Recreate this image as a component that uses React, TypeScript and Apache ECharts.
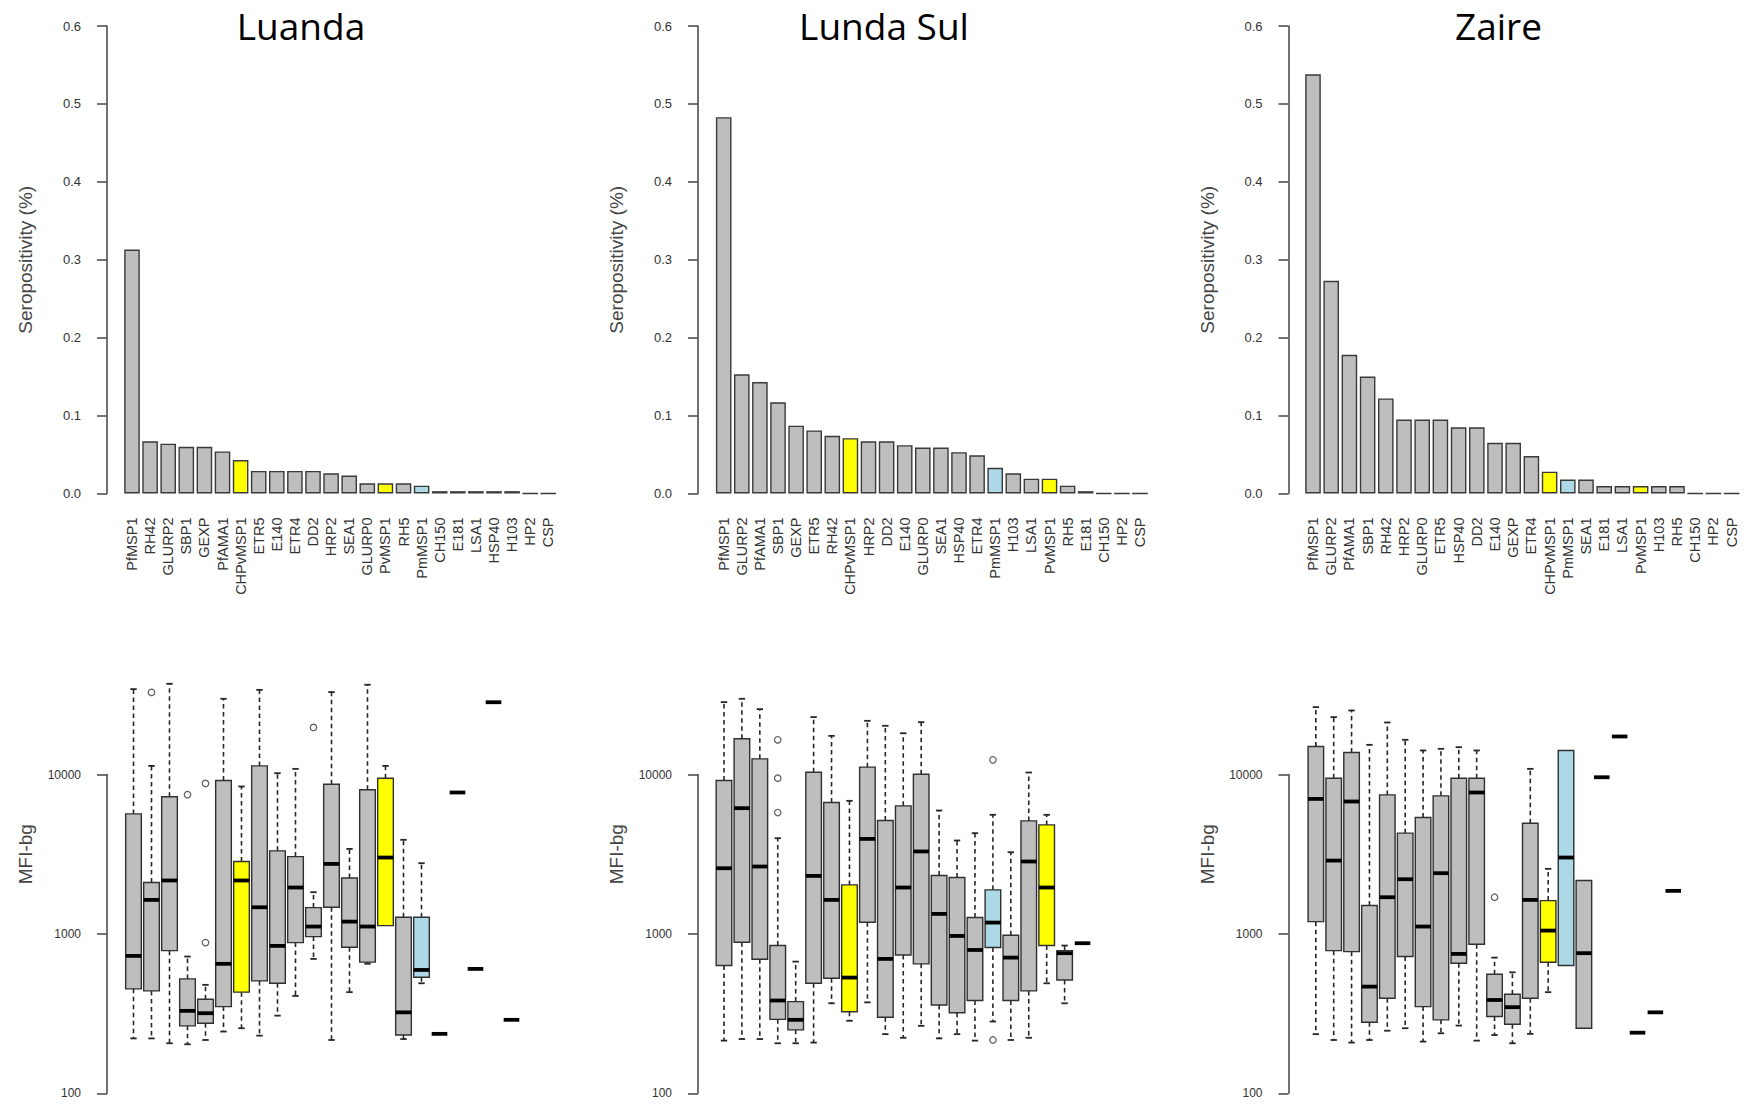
import React, { useEffect, useRef } from 'react';
import * as echarts from 'echarts';

// ---------------- DATA ----------------
const luandaCategories = ['PfMSP1', 'RH42', 'GLURP2', 'SBP1', 'GEXP', 'PfAMA1', 'CHPvMSP1', 'ETR5', 'E140', 'ETR4', 'DD2', 'HRP2', 'SEA1', 'GLURP0', 'PvMSP1', 'RH5', 'PmMSP1', 'CH150', 'E181', 'LSA1', 'HSP40', 'H103', 'HP2', 'CSP'];
const luandaSeropositivity = [0.313, 0.067, 0.064, 0.060, 0.060, 0.054, 0.043, 0.029, 0.029, 0.029, 0.029, 0.026, 0.023, 0.013, 0.013, 0.013, 0.010, 0.003, 0.003, 0.003, 0.003, 0.003, 0, 0];
// [low whisker, Q1, median, Q3, high whisker]; single value = [v]
const luandaBoxes: (number[] | null)[] = [
  [221, 452, 728, 5662, 34320],
  [221, 439, 1634, 2099, 11320],
  [206, 785, 2163, 7244, 37080],
  [203, 265, 329, 522, 721],
  [216, 275, 318, 389, 479],
  [244, 350, 649, 9161, 29850],
  [256, 431, 2163, 2846, 8410],
  [230, 507, 1469, 11320, 33960],
  [307, 490, 841, 3320, 10190],
  [408, 882, 1954, 3055, 10850],
  [697, 962, 1112, 1462, 1826],
  [216, 1469, 2748, 8690, 32900],
  [431, 825, 1194, 2244, 3413],
  [650, 665, 1112, 8017, 36560],
  [1127, 1127, 3013, 9480, 11320],
  [219, 232, 322, 1272, 3892],
  [490, 535, 594, 1272, 2776],
  [236],
  [7710],
  [603],
  [28400],
  [289],
  null,
  null,
];
const luandaOutliers = [[1, 32740], [3, 7480], [4, 8790], [4, 882], [10, 19730]];

const lundaSulCategories = ['PfMSP1', 'GLURP2', 'PfAMA1', 'SBP1', 'GEXP', 'ETR5', 'RH42', 'CHPvMSP1', 'HRP2', 'DD2', 'E140', 'GLURP0', 'SEA1', 'HSP40', 'ETR4', 'PmMSP1', 'H103', 'LSA1', 'PvMSP1', 'RH5', 'E181', 'CH150', 'HP2', 'CSP'];
const lundaSulSeropositivity = [0.483, 0.153, 0.143, 0.117, 0.087, 0.081, 0.074, 0.071, 0.067, 0.067, 0.062, 0.059, 0.059, 0.053, 0.049, 0.033, 0.026, 0.019, 0.019, 0.010, 0.003, 0, 0, 0];
const lundaSulBoxes: (number[] | null)[] = [
  [214, 633, 2582, 9161, 28440],
  [219, 887, 6150, 16750, 29850],
  [219, 693, 2646, 12540, 25700],
  [206, 291, 382, 845, 3984],
  [206, 250, 289, 376, 670],
  [208, 490, 2312, 10340, 22910],
  [367, 527, 1634, 6670, 17480],
  [285, 325, 532, 2030, 6836],
  [372, 1183, 3945, 11120, 21720],
  [235, 300, 697, 5140, 20210],
  [223, 738, 1954, 6357, 18150],
  [265, 649, 3290, 10040, 21300],
  [221, 358, 1335, 2323, 5943],
  [235, 320, 971, 2257, 3854],
  [214, 382, 793, 1266, 4285],
  [282, 821, 1178, 1889, 5586],
  [216, 382, 710, 981, 3254],
  [223, 439, 2846, 5117, 10290],
  [490, 845, 1954, 4830, 5586],
  [367, 514, 757, 785, 845],
  [874],
  null,
  null,
  null,
];
const lundaSulOutliers = [[3, 16510], [3, 9480], [3, 5774], [15, 12360], [15, 216]];

const zaireCategories = ['PfMSP1', 'GLURP2', 'PfAMA1', 'SBP1', 'RH42', 'HRP2', 'GLURP0', 'ETR5', 'HSP40', 'DD2', 'E140', 'GEXP', 'ETR4', 'CHPvMSP1', 'PmMSP1', 'SEA1', 'E181', 'LSA1', 'PvMSP1', 'H103', 'RH5', 'CH150', 'HP2', 'CSP'];
const zaireSeropositivity = [0.538, 0.273, 0.178, 0.150, 0.122, 0.095, 0.095, 0.095, 0.085, 0.085, 0.065, 0.065, 0.048, 0.028, 0.018, 0.018, 0.0096, 0.0096, 0.0096, 0.0096, 0.0096, 0, 0, 0];
const zaireBoxes: (number[] | null)[] = [
  [235, 1194, 7030, 14990, 26460],
  [216, 785, 2884, 9480, 22910],
  [208, 774, 6770, 13740, 25220],
  [216, 279, 467, 1506, 15350],
  [247, 395, 1698, 7450, 21200],
  [256, 721, 2203, 4285, 16510],
  [211, 350, 1112, 5370, 14150],
  [238, 289, 2404, 7345, 14490],
  [266, 655, 749, 9480, 14840],
  [214, 861, 7710, 9480, 14150],
  [232, 303, 385, 558, 710],
  [206, 271, 347, 418, 574],
  [236, 395, 1634, 4950, 10850],
  [431, 664, 1049, 1618, 2559],
  [633, 633, 3013, 14150, 14150],
  [256, 256, 757, 2163, 2163],
  [9610],
  [17320],
  [240],
  [322],
  [1862],
  null,
  null,
  null,
];
const zaireOutliers = [[10, 1698]];

const seroTicks = [0, 0.6, 0.1]; // min, max, interval
const mfiTicks = [100, 10000];

// ---------------- STYLE ----------------
const GREY = '#bebebe';
const YELLOW = '#ffff00';
const BLUE = '#add8e6';
const colorFor = (name: string) =>
  name === 'CHPvMSP1' || name === 'PvMSP1' ? YELLOW : name === 'PmMSP1' ? BLUE : GREY;

const FONT = 'Liberation Sans, Arial, sans-serif';
const AXIS_COLOR = '#505050';
const TEXT_COLOR = '#333';

const panels = [
  { title: 'Luanda', titleX: 301, titleTop: 6.5, cats: luandaCategories, sero: luandaSeropositivity, boxes: luandaBoxes, outliers: luandaOutliers,
    axisX: 107, barLeft: 122.95, barW: 434.4, boxLeft: 124.5, boxW: 432 },
  { title: 'Lunda Sul', titleX: 884, titleTop: 6.5, cats: lundaSulCategories, sero: lundaSulSeropositivity, boxes: lundaSulBoxes, outliers: lundaSulOutliers,
    axisX: 698, barLeft: 714.65, barW: 434.4, boxLeft: 715, boxW: 430.3 },
  { title: 'Zaire', titleX: 1498.5, titleTop: 6.5, cats: zaireCategories, sero: zaireSeropositivity, boxes: zaireBoxes, outliers: zaireOutliers,
    axisX: 1288.5, barLeft: 1303.9, barW: 436.8, boxLeft: 1306.9, boxW: 428.9 },
];

const BAR_TOP = 26;
const BAR_BOTTOM = 493.5;
const LOG_BOTTOM = 1093.3;
const DECADE = 159.4;

function buildOption() {
  const grid: any[] = [];
  const xAxis: any[] = [];
  const yAxis: any[] = [];
  const series: any[] = [];

  const axisLine = { show: true, lineStyle: { color: AXIS_COLOR, width: 1.6 } };
  const axisTick = { show: true, length: 10, lineStyle: { color: AXIS_COLOR, width: 1.6 } };
  const nameStyle = { fontSize: 19, color: '#454545', fontFamily: FONT };

  panels.forEach((p, k) => {
    const gBar = k * 3;
    const gBox = k * 3 + 1;
    const gAxis = k * 3 + 2;

    // bar grid
    grid.push({ left: p.barLeft, width: p.barW, top: BAR_TOP, height: BAR_BOTTOM - BAR_TOP });
    xAxis.push({
      gridIndex: gBar, type: 'category', data: p.cats,
      axisLine: { show: false }, axisTick: { show: false },
      axisLabel: { rotate: 90, interval: 0, margin: 24, fontSize: 14.5, color: TEXT_COLOR, fontFamily: FONT },
    });
    yAxis.push({
      gridIndex: gBar, type: 'value', min: seroTicks[0], max: seroTicks[1], interval: seroTicks[2],
      offset: p.barLeft - p.axisX,
      axisLine, axisTick,
      axisLabel: { margin: 26, fontSize: 13, color: TEXT_COLOR, fontFamily: FONT, formatter: (v: number) => v.toFixed(1) },
      splitLine: { show: false },
      name: 'Seropositivity (%)', nameLocation: 'middle', nameGap: 72, nameTextStyle: nameStyle,
    });
    series.push({
      type: 'bar', xAxisIndex: gBar, yAxisIndex: gBar, barWidth: 15.6,
      itemStyle: { borderColor: '#3a3a3a', borderWidth: 1.4 },
      data: p.sero.map((v, i) => ({ value: v, itemStyle: { color: colorFor(p.cats[i]) } })),
    });

    // box data grid (log 100..100000)
    grid.push({ left: p.boxLeft, width: p.boxW, top: LOG_BOTTOM - 3 * DECADE, height: 3 * DECADE });
    xAxis.push({ gridIndex: gBox, type: 'category', data: p.cats, show: false });
    yAxis.push({
      gridIndex: gBox, type: 'log', logBase: 10, min: 100, max: 100000,
      offset: p.boxLeft - p.axisX,
      axisLine: { show: false }, axisTick: { show: false }, axisLabel: { show: false }, splitLine: { show: false },
      name: 'MFI-bg', nameLocation: 'middle', nameGap: 72, nameTextStyle: nameStyle,
    });

    // visible log axis (100..10000)
    grid.push({ left: p.axisX, width: 20, top: LOG_BOTTOM - 2 * DECADE, height: 2 * DECADE });
    xAxis.push({ gridIndex: gAxis, type: 'value', show: false });
    yAxis.push({
      gridIndex: gAxis, type: 'log', logBase: 10, min: mfiTicks[0], max: mfiTicks[1],
      axisLine, axisTick, splitLine: { show: false },
      axisLabel: { margin: 26, fontSize: 12, color: TEXT_COLOR, fontFamily: FONT, formatter: (v: number) => String(Math.round(v)) },
    });

    const boxData = p.boxes
      .map((b, i) => (b ? [i, ...(b.length === 1 ? [b[0], b[0], b[0], b[0], b[0]] : b)] : null))
      .filter((d) => d !== null);

    const cats = p.cats;
    series.push({
      type: 'custom', xAxisIndex: gBox, yAxisIndex: gBox, clip: false,
      encode: { x: 0, y: [1, 2, 3, 4, 5] },
      data: boxData,
      renderItem: (params: any, api: any) => {
        const idx = api.value(0);
        const low = api.value(1), q1 = api.value(2), med = api.value(3), q3 = api.value(4), high = api.value(5);
        const bw = api.size([1, 1], [idx, 1000])[0];
        const w = bw * 0.87;
        const cx = api.coord([idx, med])[0];
        const yLow = api.coord([idx, low])[1];
        const yQ1 = api.coord([idx, q1])[1];
        const yMed = api.coord([idx, med])[1];
        const yQ3 = api.coord([idx, q3])[1];
        const yHigh = api.coord([idx, high])[1];
        const stroke = '#262626';
        const dashStyle = { stroke, lineWidth: 1.6, lineDash: [4.5, 3.5] };
        const capStyle = { stroke, lineWidth: 1.8 };
        const children: any[] = [];
        if (high > q3) {
          children.push({ type: 'line', shape: { x1: cx, y1: yQ3, x2: cx, y2: yHigh }, style: dashStyle });
          children.push({ type: 'line', shape: { x1: cx - 3.2, y1: yHigh, x2: cx + 3.2, y2: yHigh }, style: capStyle });
        }
        if (low < q1) {
          children.push({ type: 'line', shape: { x1: cx, y1: yQ1, x2: cx, y2: yLow }, style: dashStyle });
          children.push({ type: 'line', shape: { x1: cx - 3.2, y1: yLow, x2: cx + 3.2, y2: yLow }, style: capStyle });
        }
        if (q3 > q1) {
          children.push({ type: 'rect', shape: { x: cx - w / 2, y: yQ3, width: w, height: yQ1 - yQ3 }, style: { fill: colorFor(cats[idx]), stroke: '#303030', lineWidth: 1.4 } });
        }
        children.push({ type: 'line', shape: { x1: cx - w / 2, y1: yMed, x2: cx + w / 2, y2: yMed }, style: { stroke: '#000', lineWidth: 3.8 } });
        return { type: 'group', children };
      },
    });

    series.push({
      type: 'scatter', xAxisIndex: gBox, yAxisIndex: gBox, z: 5,
      symbol: 'circle', symbolSize: 6.5,
      itemStyle: { color: 'rgba(0,0,0,0)', borderColor: '#333', borderWidth: 1.2 },
      data: p.outliers,
    });
  });

  return {
    animation: false,
    backgroundColor: '#fff',
    title: panels.map((p) => ({
      text: p.title, left: p.titleX, top: p.titleTop, textAlign: 'center', padding: 0,
      textStyle: { fontFamily: 'Open Sans', fontSize: 37, fontWeight: 'normal', color: '#000' },
    })),
    grid, xAxis, yAxis, series,
  };
}

export default function App() {
  const ref = useRef<HTMLDivElement>(null);
  useEffect(() => {
    if (!ref.current) return;
    const chart = echarts.init(ref.current, undefined, { renderer: 'svg' });
    chart.setOption(buildOption() as any);
    return () => chart.dispose();
  }, []);
  return <div ref={ref} style={{ position: 'fixed', left: 0, top: 0, width: 1744, height: 1105, background: '#fff' }} />;
}
